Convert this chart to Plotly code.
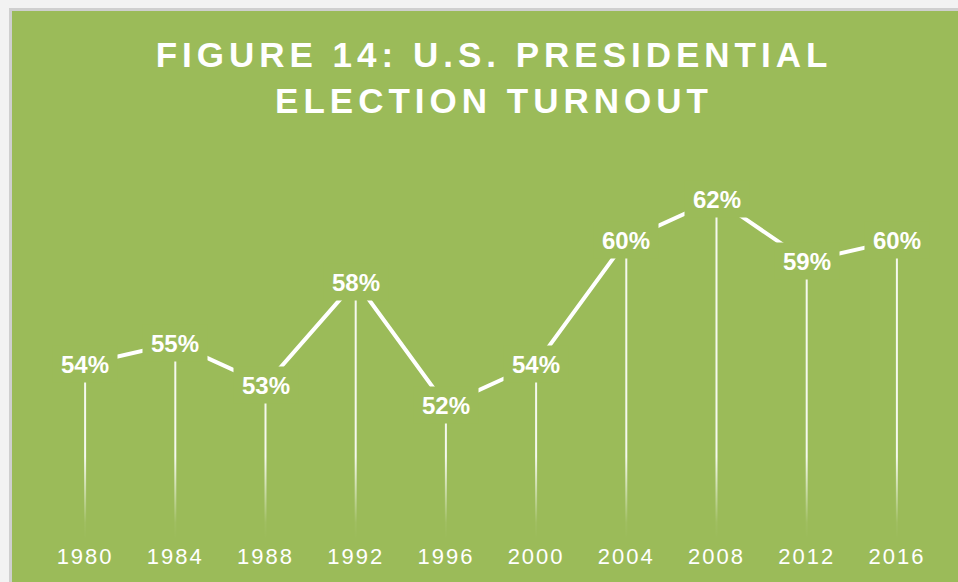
import plotly.graph_objects as go

# ---- data ----
years = ["1980", "1984", "1988", "1992", "1996", "2000", "2004", "2008", "2012", "2016"]
turnout = [54, 55, 53, 58, 52, 54, 60, 62, 59, 60]

GREEN = "#9BBB59"
WHITE = "#FFFFFF"
Y_MIN, Y_MAX = 45.5, 64.0

W, H = 958, 582
ML, MR, MT, MB = 40, 16, 158, 43
PW, PH = W - ML - MR, H - MT - MB

xs = list(range(len(years)))

fig = go.Figure()

# drop lines (thin fading polygons from each point down to the axis)
half_w = 1.0 / (PW / len(years))  # ~1px half width in category units
for i, v in zip(xs, turnout):
    fig.add_trace(go.Scatter(
        x=[i - half_w, i + half_w, i + half_w, i - half_w, i - half_w],
        y=[Y_MIN, Y_MIN, v, v, Y_MIN],
        mode="lines", line=dict(width=0), fill="toself",
        fillgradient=dict(type="vertical", start=Y_MIN, stop=49.5,
                          colorscale=[[0, "rgba(255,255,255,0)"],
                                      [0.2, "rgba(255,255,255,0.05)"],
                                      [1, "rgba(255,255,255,0.9)"]]),
        hoverinfo="skip", showlegend=False,
    ))

# main line
fig.add_trace(go.Scatter(
    x=xs, y=turnout, mode="lines",
    line=dict(color=WHITE, width=4),
    showlegend=False, hoverinfo="skip",
))

# data labels with green boxes masking the lines
for i, v in zip(xs, turnout):
    fig.add_annotation(
        x=i, y=v, text=f"{v}%", showarrow=False,
        font=dict(family="Liberation Sans, Arial", size=24, color=WHITE, weight="bold"),
        bgcolor=GREEN, width=64, height=36, borderpad=0,
        xanchor="center", yanchor="middle",
    )

# frame (light border at top/left as in the reference crop)
def px_x(p):
    return (p - ML) / PW

def px_y(p):
    return (H - MB - p) / PH

fig.add_shape(type="rect", xref="paper", yref="paper", layer="below",
              x0=px_x(0), x1=px_x(W + 5), y0=px_y(H + 5), y1=px_y(0),
              fillcolor="#F2F2F2", line=dict(width=0))
fig.add_shape(type="rect", xref="paper", yref="paper", layer="below",
              x0=px_x(9), x1=px_x(W + 5), y0=px_y(H + 5), y1=px_y(8),
              fillcolor="#CFCFCF", line=dict(width=0))
fig.add_shape(type="rect", xref="paper", yref="paper", layer="below",
              x0=px_x(12), x1=px_x(W + 5), y0=px_y(H + 5), y1=px_y(11),
              fillcolor=GREEN, line=dict(width=0))

fig.update_layout(
    width=W, height=H,
    margin=dict(l=ML, r=MR, t=MT, b=MB, pad=0),
    paper_bgcolor=GREEN, plot_bgcolor="rgba(0,0,0,0)",
    title=dict(
        text="FIGURE 14: U.S. PRESIDENTIAL<br>ELECTION TURNOUT",
        x=494 / W, xanchor="center", xref="container",
        y=1 - 67 / H, yanchor="top", yref="container",
        font=dict(family="Liberation Sans, Arial", size=35, color=WHITE, weight="bold"),
    ),
    xaxis=dict(
        range=[-0.5, len(years) - 0.5],
        tickmode="array", tickvals=xs, ticktext=years,
        showgrid=False, zeroline=False, showline=False, ticks="",
        tickfont=dict(family="Liberation Sans, Arial", size=22, color=WHITE),
        ticklabelstandoff=2,
        fixedrange=True,
    ),
    yaxis=dict(range=[Y_MIN, Y_MAX], visible=False, fixedrange=True),
    showlegend=False,
)

post = """
var s = document.createElement('style');
s.textContent = '.gtitle{letter-spacing:5px}' +
                ' g.xtick text{letter-spacing:2px}';
document.head.appendChild(s);
"""

fig.write_html("out.html", config={"displayModeBar": False}, post_script=post)
